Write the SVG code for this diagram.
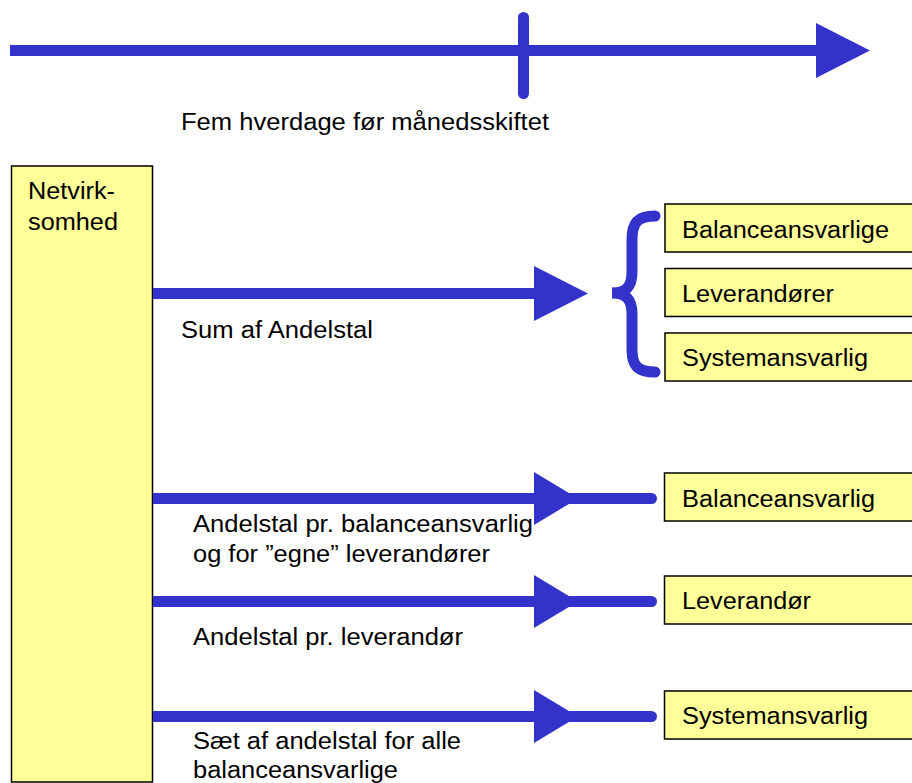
<svg xmlns="http://www.w3.org/2000/svg" width="912" height="783" viewBox="0 0 912 783">
<style>
text{font-family:"Liberation Sans",Arial,sans-serif;font-size:23px;fill:#000}
.box{fill:#FFFF99;stroke:#000;stroke-width:1.5}
.ln{stroke:#3333CC;stroke-width:11;fill:none}
.hd{fill:#3333CC}
</style>
<rect width="912" height="783" fill="#fff"/>
<g id="timeline">
<line class="ln" x1="10" y1="50.5" x2="820" y2="50.5"/>
<polygon class="hd" points="816,23 870,50.5 816,78"/>
<line class="ln" x1="523.5" y1="17.5" x2="523.5" y2="93.5" stroke-linecap="round"/>
<text x="181" y="130" textLength="368" lengthAdjust="spacingAndGlyphs">Fem hverdage før månedsskiftet</text>
</g>
<g id="netvirksomhed">
<rect class="box" x="11.5" y="166" width="141" height="616"/>
<text x="28" y="199" textLength="87" lengthAdjust="spacingAndGlyphs">Netvirk-</text>
<text x="28" y="230" textLength="90" lengthAdjust="spacingAndGlyphs">somhed</text>
</g>
<g id="brace">
<path class="ln" stroke-width="10" stroke-linecap="round" d="M655,216 C638,216 632,222 632,240 L632,272 C632,287 626,293 612,293 C626,293 632,299 632,314 L632,350 C632,366 638,372 655,372"/>
</g>
<g id="top-balanceansvarlige">
<rect class="box" x="665" y="204" width="260" height="48"/>
<text x="682" y="238" textLength="207" lengthAdjust="spacingAndGlyphs">Balanceansvarlige</text>
</g>
<g id="top-leverandorer">
<rect class="box" x="665" y="268.5" width="260" height="48"/>
<text x="682" y="302" textLength="152" lengthAdjust="spacingAndGlyphs">Leverandører</text>
</g>
<g id="top-systemansvarlig">
<rect class="box" x="665" y="333" width="260" height="48"/>
<text x="682" y="366" textLength="186" lengthAdjust="spacingAndGlyphs">Systemansvarlig</text>
</g>
<g id="balanceansvarlig">
<rect class="box" x="664.5" y="473" width="260" height="48"/>
<text x="682" y="507" textLength="193" lengthAdjust="spacingAndGlyphs">Balanceansvarlig</text>
</g>
<g id="leverandor">
<rect class="box" x="664.5" y="576" width="260" height="48"/>
<text x="682" y="609" textLength="129" lengthAdjust="spacingAndGlyphs">Leverandør</text>
</g>
<g id="systemansvarlig">
<rect class="box" x="664.5" y="691" width="260" height="48"/>
<text x="682" y="724" textLength="186" lengthAdjust="spacingAndGlyphs">Systemansvarlig</text>
</g>
<g id="connectors">
<line class="ln" x1="153" y1="293.5" x2="540" y2="293.5"/>
<polygon class="hd" points="534,266 588,293.5 534,321"/>
<line class="ln" x1="153" y1="498.5" x2="651.5" y2="498.5"/>
<line class="ln" x1="580" y1="498.5" x2="651.5" y2="498.5" stroke-linecap="round"/>
<polygon class="hd" points="534,472 578,498.5 534,525"/>
<line class="ln" x1="153" y1="601.5" x2="651.5" y2="601.5"/>
<line class="ln" x1="580" y1="601.5" x2="651.5" y2="601.5" stroke-linecap="round"/>
<polygon class="hd" points="534,575 578,601.5 534,628"/>
<line class="ln" x1="153" y1="716.5" x2="651.5" y2="716.5"/>
<line class="ln" x1="580" y1="716.5" x2="651.5" y2="716.5" stroke-linecap="round"/>
<polygon class="hd" points="534,690 578,716.5 534,743"/>
</g>
<g id="labels">
<text x="181" y="338" textLength="192" lengthAdjust="spacingAndGlyphs">Sum af Andelstal</text>
<text x="193" y="532" textLength="340" lengthAdjust="spacingAndGlyphs">Andelstal pr. balanceansvarlig</text>
<text x="193" y="562" textLength="297" lengthAdjust="spacingAndGlyphs">og for ”egne” leverandører</text>
<text x="193" y="645" textLength="270" lengthAdjust="spacingAndGlyphs">Andelstal pr. leverandør</text>
<text x="193" y="749" textLength="268" lengthAdjust="spacingAndGlyphs">Sæt af andelstal for alle</text>
<text x="193" y="778" textLength="205" lengthAdjust="spacingAndGlyphs">balanceansvarlige</text>
</g>
</svg>
